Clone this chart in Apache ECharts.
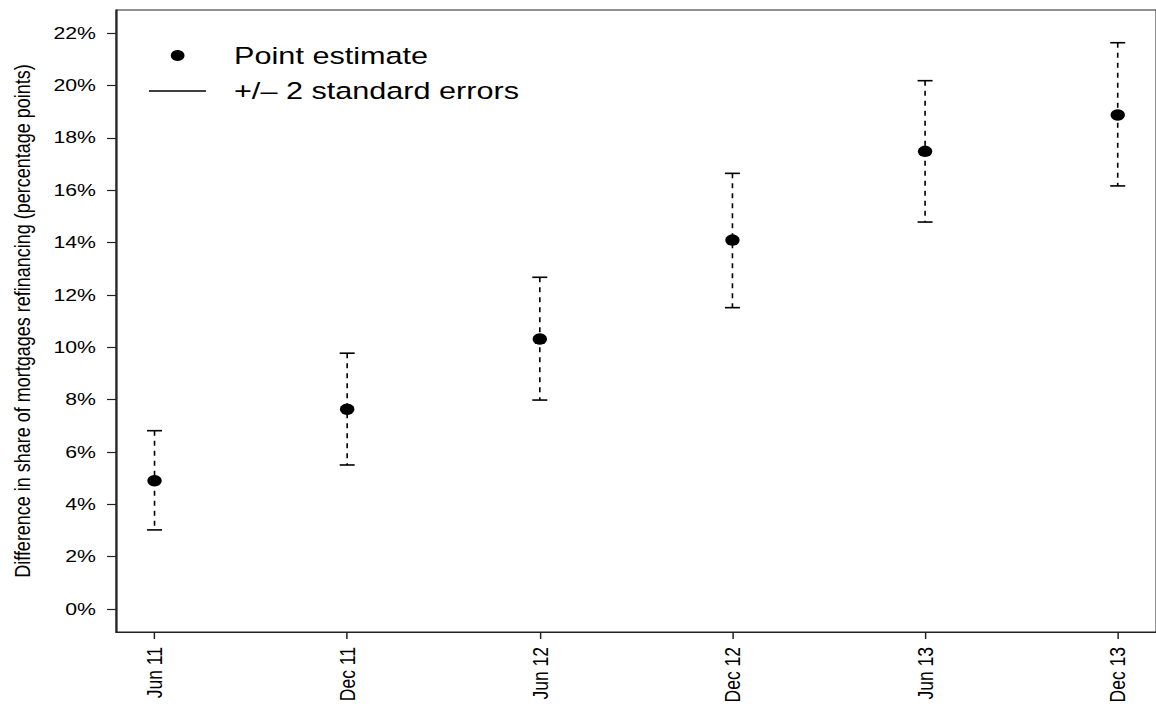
<!DOCTYPE html>
<html>
<head>
<meta charset="utf-8">
<script src="https://cdn.jsdelivr.net/npm/echarts@6/dist/echarts.min.js"></script>
<style>
    html, body { margin: 0; padding: 0; background: #fff; overflow: hidden; }
    /* the reference is a wide-stretched R plot, so draw narrow and stretch */
    #chart-container { width: 925px; height: 709px; transform: scaleX(1.25); transform-origin: 0 0; }
</style>
</head>
<body>
<div id="chart-container"></div>
<script>
// values (percentage points)
const periods = ['Jun 11', 'Dec 11', 'Jun 12', 'Dec 12', 'Jun 13', 'Dec 13'];
const pointEstimate = [4.90, 7.63, 10.31, 14.09, 17.48, 18.87];
const upperBound = [6.81, 9.77, 12.67, 16.64, 20.18, 21.63];
const lowerBound = [3.02, 5.50, 7.98, 11.51, 14.78, 16.16];
const yTicks = [0, 2, 4, 6, 8, 10, 12, 14, 16, 18, 20, 22];
const xTicks = [0, 1, 2, 3, 4, 5];

const font = "'Liberation Sans', Arial, Helvetica, sans-serif";

const chartDom = document.getElementById('chart-container');
const myChart = echarts.init(chartDom, null, {renderer: 'svg'});

const estimateData = pointEstimate.map((v, i) => [i, v]);
const errorData = periods.map((p, i) => [i, lowerBound[i], upperBound[i]]);

function renderErrorBar(params, api) {
    const lo = api.coord([api.value(0), api.value(1)]);
    const hi = api.coord([api.value(0), api.value(2)]);
    const capHalf = 6;
    const capStyle = {stroke: '#000', lineWidth: 1.6};
    return {
        type: 'group',
        children: [
            {
                type: 'line',
                shape: {x1: hi[0], y1: hi[1], x2: lo[0], y2: lo[1]},
                style: {stroke: '#000', lineWidth: 1.3, lineDash: [5, 5]}
            },
            {
                type: 'line',
                shape: {x1: hi[0] - capHalf, y1: hi[1], x2: hi[0] + capHalf, y2: hi[1]},
                style: capStyle
            },
            {
                type: 'line',
                shape: {x1: lo[0] - capHalf, y1: lo[1], x2: lo[0] + capHalf, y2: lo[1]},
                style: capStyle
            }
        ]
    };
}

var option;

option = {
    animation: false,
    textStyle: {fontFamily: font, color: '#000'},
    legend: [
        {
            data: [{name: 'Point estimate', icon: 'circle'}],
            left: 136.6,
            top: 43,
            padding: 0,
            itemWidth: 45.6,
            itemHeight: 11,
            selectedMode: false,
            textStyle: {fontSize: 24.5, color: '#000', fontFamily: font, padding: [0, 0, 0, 17.4]}
        },
        {
            data: [{name: '+/\u2013 2 standard errors', icon: 'rect'}],
            left: 119.2,
            top: 78.5,
            padding: 0,
            itemWidth: 45.6,
            itemHeight: 1.3,
            selectedMode: false,
            textStyle: {fontSize: 24.5, color: '#000', fontFamily: font, padding: [0, 0, 0, 17.4]}
        }
    ],
    grid: {
        left: 92.8,
        top: 10,
        width: 836.6,
        height: 622,
        show: true,
        borderColor: '#222',
        borderWidth: 1.2
    },
    xAxis: {
        type: 'value',
        min: -0.2,
        max: 5.2,
        axisLine: {show: true, onZero: false, lineStyle: {color: '#222', width: 1.2}},
        axisTick: {show: true, length: 7, customValues: xTicks, lineStyle: {color: '#222', width: 1.2}},
        axisLabel: {
            customValues: xTicks,
            rotate: 90,
            margin: 15,
            fontSize: 17.5,
            color: '#000',
            fontFamily: font,
            formatter: (v) => periods[Math.round(v)]
        },
        splitLine: {show: false}
    },
    yAxis: {
        type: 'value',
        min: -0.88,
        max: 22.88,
        name: 'Difference in share of mortgages refinancing (percentage points)',
        nameLocation: 'middle',
        nameGap: 66,
        nameTextStyle: {fontSize: 18, color: '#000', fontFamily: font},
        axisLine: {show: true, onZero: false, lineStyle: {color: '#222', width: 1.2}},
        axisTick: {show: true, length: 7.2, customValues: yTicks, lineStyle: {color: '#222', width: 1.2}},
        axisLabel: {
            customValues: yTicks,
            margin: 16,
            fontSize: 17,
            color: '#000',
            fontFamily: font,
            formatter: (v) => v + '%'
        },
        splitLine: {show: false}
    },
    series: [
        {
            name: '+/\u2013 2 standard errors',
            type: 'custom',
            renderItem: renderErrorBar,
            itemStyle: {color: '#000'},
            encode: {x: 0, y: [1, 2]},
            data: errorData,
            z: 2
        },
        {
            name: 'Point estimate',
            type: 'scatter',
            symbol: 'circle',
            symbolSize: 11.5,
            itemStyle: {color: '#000', opacity: 1},
            data: estimateData,
            z: 3
        }
    ]
};

option && myChart.setOption(option, true);
</script>
</body>
</html>
